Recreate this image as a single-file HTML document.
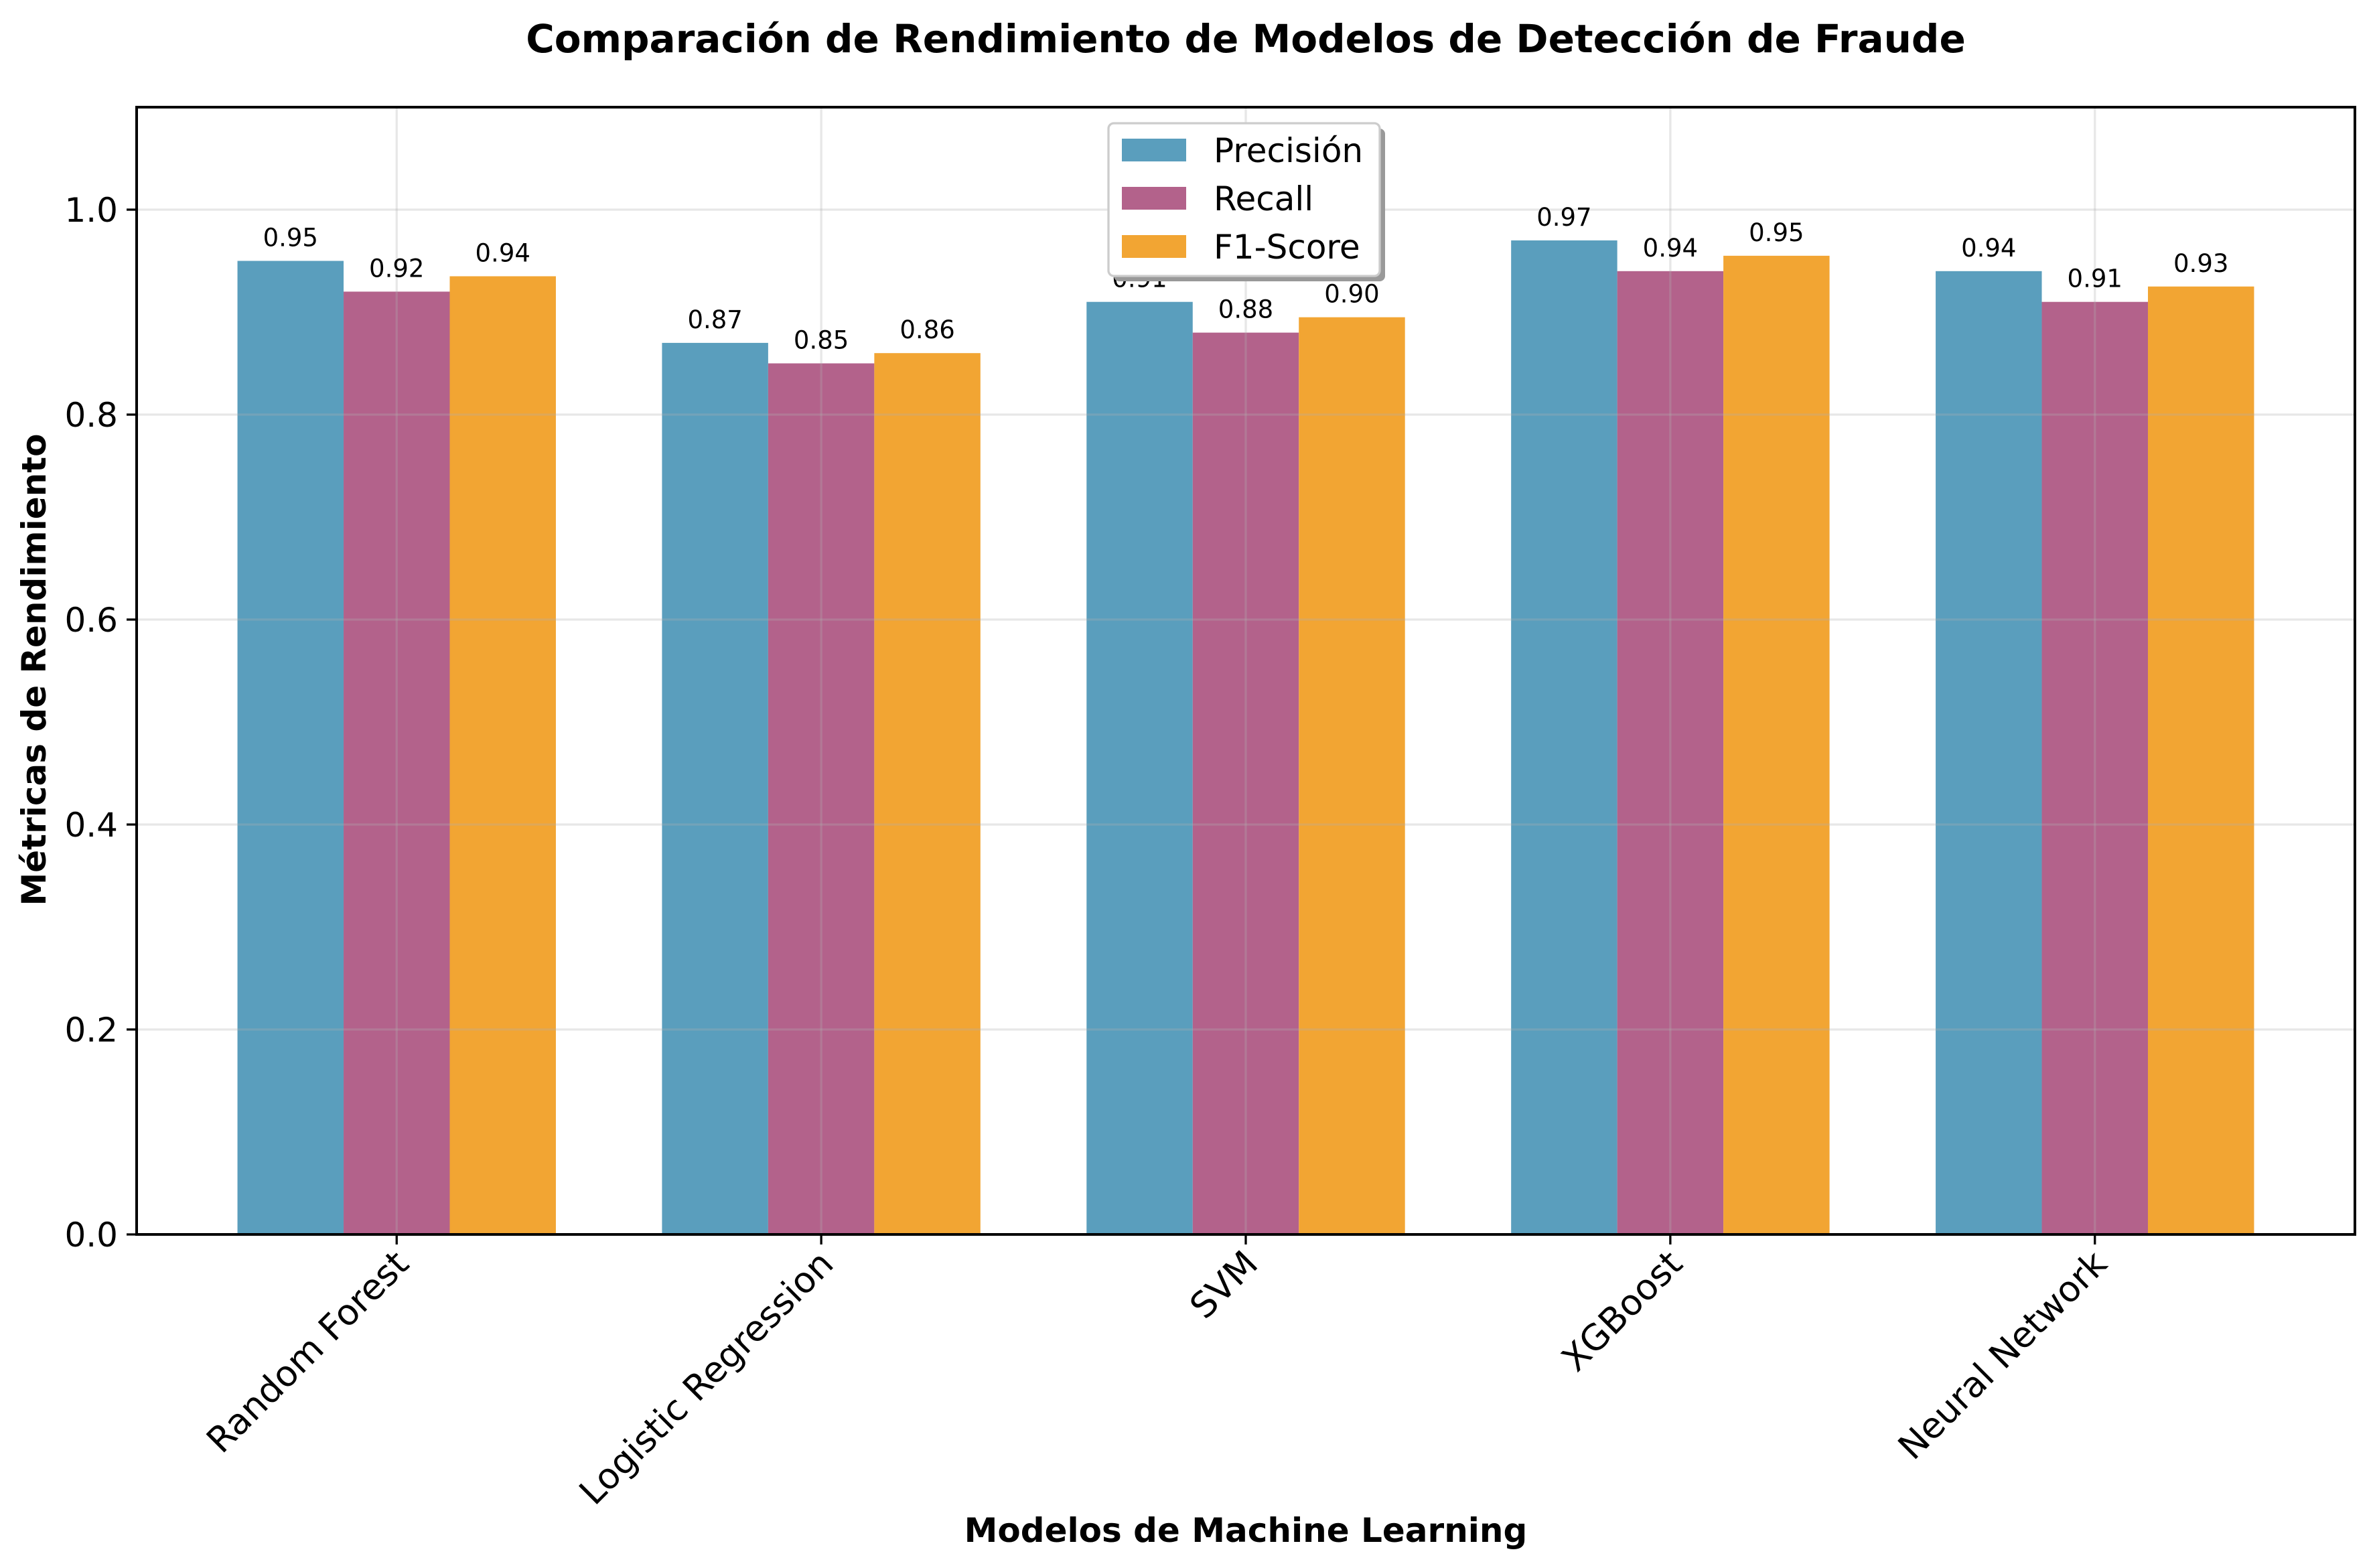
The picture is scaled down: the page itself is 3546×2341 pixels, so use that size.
<!DOCTYPE html>
<html><head><meta charset="utf-8"><style>
html,body{margin:0;padding:0;background:#fff;}
svg{display:block;font-family:"DejaVu Sans","Liberation Sans",sans-serif;}
</style></head><body>
<svg id="chart" width="3546" height="2341" viewBox="0 0 3546 2341" xmlns="http://www.w3.org/2000/svg">
<rect width="3546" height="2341" fill="#fff"/>
<text x="1860" y="78" text-anchor="middle" font-size="58" font-weight="bold">Comparación de Rendimiento de Modelos de Detección de Fraude</text>
<g id="plot"></g>
<text x="1860" y="2302" text-anchor="middle" font-size="50" font-weight="bold">Modelos de Machine Learning</text>
<text transform="translate(68,1000) rotate(-90)" text-anchor="middle" font-size="50" font-weight="bold">Métricas de Rendimiento</text>
</svg>
<script>
const categories = ["Random Forest","Logistic Regression","SVM","XGBoost","Neural Network"];
const precision = [0.95,0.87,0.91,0.97,0.94];
const recall = [0.92,0.85,0.88,0.94,0.91];
const f1 = [0.935,0.86,0.895,0.955,0.925];
const precisionLabels = ["0.95","0.87","0.91","0.97","0.94"];
const recallLabels = ["0.92","0.85","0.88","0.94","0.91"];
const f1Labels = ["0.94","0.86","0.90","0.95","0.93"];
const yTicks = [0.0,0.2,0.4,0.6,0.8,1.0];
const yTickLabels = ["0.0","0.2","0.4","0.6","0.8","1.0"];
const seriesNames = ["Precisión","Recall","F1-Score"];

const NS="http://www.w3.org/2000/svg";
const L=204,R=3516,T=160,B=1843;
const xMin=-0.6125,xMax=4.6125,yMin=0,yMax=1.1;
const xs=v=>L+(v-xMin)/(xMax-xMin)*(R-L);
const ys=v=>B-(v-yMin)/(yMax-yMin)*(B-T);
const g=document.getElementById('plot');
function mk(tag,attrs,parent){const e=document.createElementNS(NS,tag);for(const k in attrs)e.setAttribute(k,attrs[k]);(parent||g).appendChild(e);return e;}

const colors=["#5A9EBD","#B3628B","#F2A533"];
const series=[precision,recall,f1];
const labels=[precisionLabels,recallLabels,f1Labels];
const keys=["precision","recall","f1"];
const w=0.25;
series.forEach((s,si)=>{
  s.forEach((v,i)=>{
    const c=i+(si-1)*w;
    const r=mk('rect',{x:xs(c-w/2),y:ys(v),width:xs(c+w/2)-xs(c-w/2),height:ys(0)-ys(v),fill:colors[si]});
    
    
  });
});
yTicks.forEach(t=>{
  const l=mk('line',{x1:L,x2:R,y1:ys(t),y2:ys(t),stroke:'#b0b0b0','stroke-opacity':0.3,'stroke-width':3.3});
  
  
});
categories.forEach((c,i)=>{
  const l=mk('line',{x1:xs(i),x2:xs(i),y1:T,y2:B,stroke:'#b0b0b0','stroke-opacity':0.3,'stroke-width':3.3});
  
  
});
series.forEach((s,si)=>{
  s.forEach((v,i)=>{
    const c=i+(si-1)*w;
    const t=mk('text',{x:xs(c),y:ys(v)-22,'text-anchor':'middle','font-size':37});
    t.textContent=labels[si][i];
    
    
  });
});
const fr=mk('rect',{x:L,y:T,width:R-L,height:B-T,fill:'none',stroke:'#000','stroke-width':4});


yTicks.forEach((t,i)=>{
  const l=mk('line',{x1:L-15,x2:L,y1:ys(t),y2:ys(t),stroke:'#000','stroke-width':3.3});
  
  
  const tx=mk('text',{x:L-28,y:ys(t)+18,'text-anchor':'end','font-size':50});
  tx.textContent=yTickLabels[i];
  
  
});
categories.forEach((c,i)=>{
  const l=mk('line',{x1:xs(i),x2:xs(i),y1:B,y2:B+15,stroke:'#000','stroke-width':3.3});
  
  
  const tx=mk('text',{transform:`translate(${xs(i)-6},${B+20}) rotate(-45)`,'text-anchor':'end','font-size':53,dy:'0.72em'});
  tx.textContent=c;
  
  
});
const lg=mk('g',{});


mk('rect',{x:1663,y:192,width:405,height:228,rx:8,fill:'#999'},lg);
mk('rect',{x:1655,y:184,width:405,height:228,rx:8,fill:'#fff',stroke:'#ccc','stroke-width':3.3},lg);
seriesNames.forEach((n,si)=>{
  const cy=224+si*72;
  const e=mk('g',{},lg);
  
  
  mk('rect',{x:1675,y:cy-17,width:96,height:34,fill:colors[si]},e);
  const t=mk('text',{x:1812,y:cy+18,'font-size':50},e);
  t.textContent=n;
});
</script>
</body></html>
